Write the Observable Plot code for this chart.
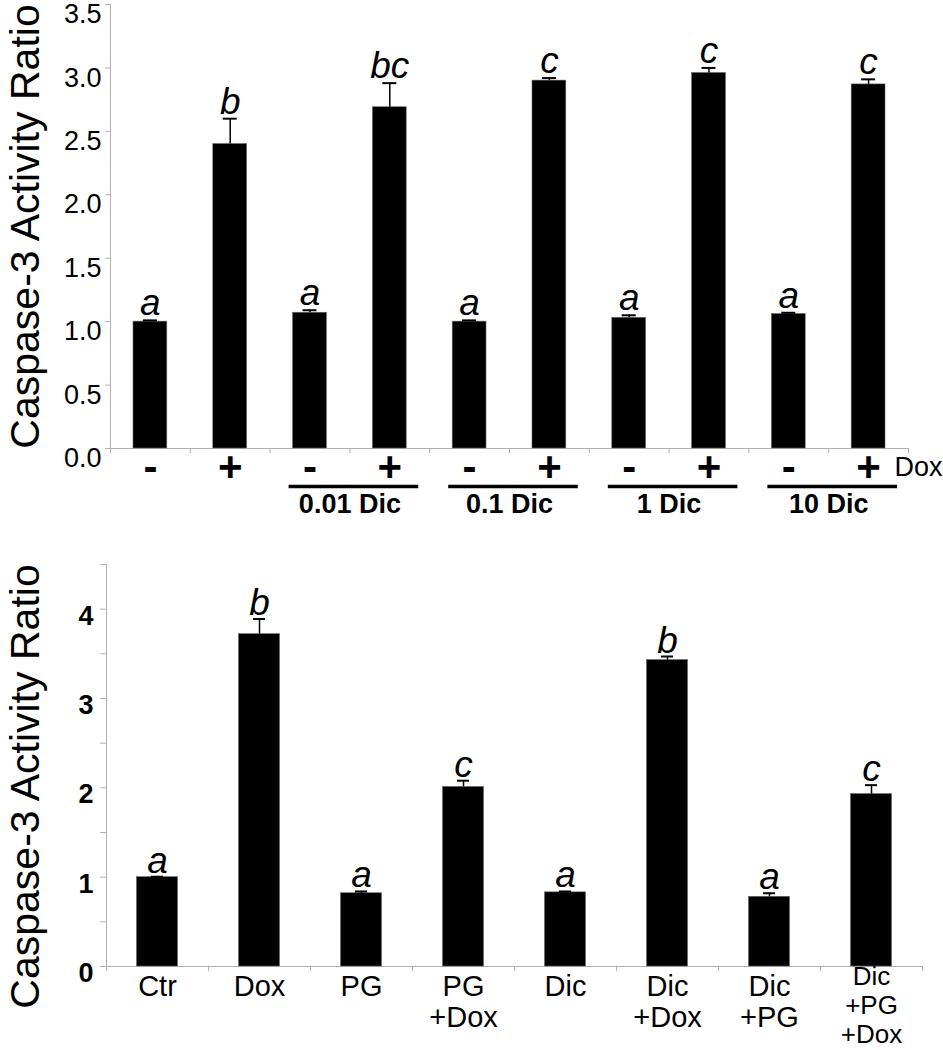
<!DOCTYPE html>
<html>
<head>
<meta charset="utf-8">
<script src="https://cdn.jsdelivr.net/npm/d3@7"></script>
<script src="https://cdn.jsdelivr.net/npm/@observablehq/plot@0.6"></script>
<style>
  body { margin: 0; background: #fff; }
  #chart svg { display: block; }
</style>
</head>
<body>
<div id="chart"></div>
<script>
// ---------- Data: top panel ----------
const topDox = ["-", "+", "-", "+", "-", "+", "-", "+", "-", "+"];
const topMeans = [1.00, 2.40, 1.07, 2.69, 1.00, 2.90, 1.03, 2.96, 1.06, 2.87];
const topErrors = [0.01, 0.20, 0.02, 0.19, 0.01, 0.02, 0.02, 0.04, 0.01, 0.04];
const topLetters = ["a", "b", "a", "bc", "a", "c", "a", "c", "a", "c"];
const dicGroups = ["0.01 Dic", "0.1 Dic", "1 Dic", "10 Dic"];
const dicStarts = [2, 4, 6, 8];
const topYTicks = [0, 0.5, 1.0, 1.5, 2.0, 2.5, 3.0, 3.5];

// ---------- Data: bottom panel ----------
const botLabels = ["Ctr", "Dox", "PG", "PG\n+Dox", "Dic", "Dic\n+Dox", "Dic\n+PG", "Dic\n+PG\n+Dox"];
const botMeans = [1.00, 3.72, 0.82, 2.01, 0.83, 3.43, 0.78, 1.93];
const botErrors = [0.005, 0.17, 0.02, 0.07, 0.01, 0.04, 0.04, 0.10];
const botLetters = ["a", "b", "a", "c", "a", "b", "a", "c"];
const botYTicks = [0, 0.5, 1, 1.5, 2, 2.5, 3, 3.5, 4, 4.5];
const botYLabels = [0, 1, 2, 3, 4];

const yTitle = "Caspase-3 Activity Ratio";

const FONT = "Arial, 'Liberation Sans', sans-serif";
const GRAY = "#b0b0b0";

const topData = topDox.map((d, i) => ({i, dox: d, mean: topMeans[i], err: topErrors[i], letter: topLetters[i]}));
const groupData = dicGroups.map((g, k) => ({label: g, start: dicStarts[k]}));
const botData = botLabels.map((d, i) => ({i, label: d, mean: botMeans[i], err: botErrors[i], letter: botLetters[i], lines: d.split("\n").length}));

const topPlot = Plot.plot({
  width: 943, height: 545,
  marginLeft: 110, marginRight: 35, marginTop: 4, marginBottom: 97,
  style: {fontFamily: FONT, background: "white", color: "black", overflow: "visible"},
  x: {domain: [0, topDox.length], axis: null},
  y: {domain: [0, 3.5], axis: null},
  marks: [
    Plot.axisY({ticks: topYTicks, tickSize: 5, tickFormat: () => "", stroke: GRAY, label: null}),
    Plot.axisX({ticks: d3.range(0, topDox.length + 1), tickSize: 5, tickFormat: () => "", stroke: GRAY, label: null}),
    Plot.ruleX([0], {stroke: GRAY}),
    Plot.ruleY([0], {stroke: GRAY}),
    Plot.text(topYTicks, {y: d => d, frameAnchor: "left", textAnchor: "end", dx: -9, dy: 10, text: d3.format(".1f"), fontSize: 27}),
    Plot.rectY(topData, {x1: "i", x2: d => d.i + 1, y: "mean", insetLeft: 23, insetRight: 23, fill: "black", stroke: "#666", strokeWidth: 0.6}),
    Plot.ruleX(topData, {x: d => d.i + 0.5, y1: "mean", y2: d => d.mean + d.err, stroke: "black", strokeWidth: 1.5}),
    Plot.ruleY(topData, {x1: d => d.i + 0.5, x2: d => d.i + 0.5, y: d => d.mean + d.err, insetLeft: -7, insetRight: -7, stroke: "black", strokeWidth: 2}),
    Plot.text(topData, {x: d => d.i + 0.5, y: d => d.mean + d.err, text: "letter", lineAnchor: "bottom", dy: -5, fontSize: 37, fontStyle: "italic"}),
    Plot.text(topData, {x: d => d.i + 0.5, frameAnchor: "bottom", dy: 32, text: "dox", fontSize: 42, fontWeight: "bold"}),
    Plot.text(["Dox"], {frameAnchor: "bottom-right", textAnchor: "start", dx: -14, dy: 27, fontSize: 27}),
    Plot.ruleY(groupData, {x1: "start", x2: d => d.start + 2, y: 0, dy: 38, insetLeft: 19, insetRight: 11, stroke: "black", strokeWidth: 3.5}),
    Plot.text(groupData, {x: d => d.start + 1, y: 0, dy: 56, text: "label", fontSize: 27, fontWeight: "bold"}),
    Plot.text([yTitle], {frameAnchor: "left", textAnchor: "middle", rotate: -90, dx: -85, fontSize: 41})
  ]
});

const botPlot = Plot.plot({
  width: 943, height: 505,
  marginLeft: 106, marginRight: 21, marginTop: 19, marginBottom: 84,
  style: {fontFamily: FONT, background: "white", color: "black", overflow: "visible"},
  x: {domain: [0, botLabels.length], axis: null},
  y: {domain: [0, 4.5], axis: null},
  marks: [
    Plot.axisY({ticks: botYTicks, tickSize: 6, tickFormat: () => "", stroke: GRAY, label: null}),
    Plot.axisX({ticks: d3.range(0, botLabels.length + 1), tickSize: 5, tickFormat: () => "", stroke: GRAY, label: null}),
    Plot.ruleX([0], {stroke: GRAY}),
    Plot.ruleY([0], {stroke: GRAY}),
    Plot.text(botYLabels, {y: d => d, frameAnchor: "left", textAnchor: "end", dx: -13, dy: 7, text: d => String(d), fontSize: 27, fontWeight: "bold"}),
    Plot.rectY(botData, {x1: "i", x2: d => d.i + 1, y: "mean", insetLeft: 30.5, insetRight: 30.5, fill: "black", stroke: "#666", strokeWidth: 0.6}),
    Plot.ruleX(botData, {x: d => d.i + 0.5, y1: "mean", y2: d => d.mean + d.err, stroke: "black", strokeWidth: 1.5}),
    Plot.ruleY(botData, {x1: d => d.i + 0.5, x2: d => d.i + 0.5, y: d => d.mean + d.err, insetLeft: -6, insetRight: -6, stroke: "black", strokeWidth: 2}),
    Plot.text(botData, {x: d => d.i + 0.5, y: d => d.mean + d.err, text: "letter", lineAnchor: "bottom", dy: -4, fontSize: 37, fontStyle: "italic"}),
    Plot.text(botData.filter(d => d.lines < 3), {x: d => d.i + 0.5, frameAnchor: "bottom", lineAnchor: "top", dy: 8, text: "label", fontSize: 29, lineHeight: 1.05}),
    Plot.text(botData.filter(d => d.lines >= 3), {x: d => d.i + 0.5, frameAnchor: "bottom", lineAnchor: "top", dy: -2, text: "label", fontSize: 26, lineHeight: 1.12}),
    Plot.text([yTitle], {frameAnchor: "left", textAnchor: "middle", rotate: -90, dx: -81, dy: 21, fontSize: 41})
  ]
});

const chart = document.getElementById("chart");
chart.appendChild(topPlot);
chart.appendChild(botPlot);
</script>
</body>
</html>
